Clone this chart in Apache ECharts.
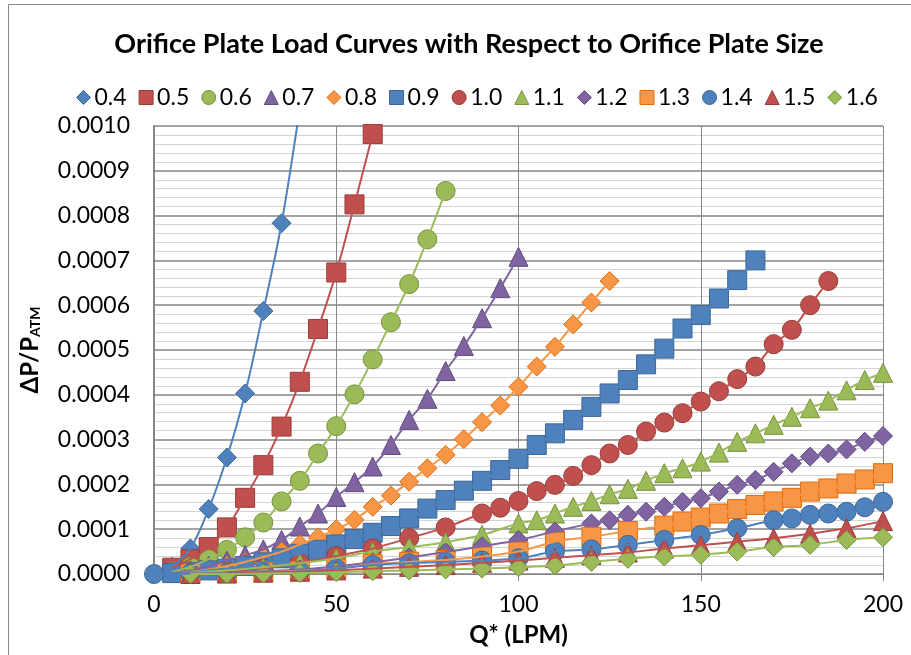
<!DOCTYPE html>
<html><head><meta charset="utf-8">
<script src="https://cdn.jsdelivr.net/npm/echarts@6/dist/echarts.min.js"></script>
<style>html,body{margin:0;padding:0;background:#fff}#c{width:911px;height:655px}</style>
</head><body><div id="c"></div><script>
// ---- data ----
const seriesNames = ['0.4','0.5','0.6','0.7','0.8','0.9','1.0','1.1','1.2','1.3','1.4','1.5','1.6'];

const x04 = [5,10,15,20,25,30,35,40];
const y04 = [0.000016,0.000057,0.000145,0.00026,0.000403,0.000587,0.000783,0.00104];

const x05 = [5,10,15,20,25,30,35,40,45,50,55,60];
const y05 = [0.000014,0.000033,0.00006,0.000104,0.00017,0.000243,0.000329,0.000429,0.000547,0.000673,0.000825,0.000982];

const x06 = [5,10,15,20,25,30,35,40,45,50,55,60,65,70,75,80];
const y06 = [0.000005,0.000016,0.000033,0.000054,0.000082,0.000115,0.000162,0.000208,0.000269,0.00033,0.000401,0.000479,0.000562,0.000647,0.000747,0.000855];

const x07 = [5,10,15,20,25,30,35,40,45,50,55,60,65,70,75,80,85,90,95,100];
const y07 = [0.000003,0.000008,0.000018,0.00003,0.000042,0.000055,0.000076,0.000106,0.000135,0.000172,0.000205,0.00024,0.000288,0.000344,0.000391,0.000453,0.000509,0.000571,0.000638,0.000708];

const x08 = [5,10,15,20,25,30,35,40,45,50,55,60,65,70,75,80,85,90,95,100,105,110,115,120,125];
const y08 = [0.000002,0.000005,0.00001,0.000018,0.000027,0.000038,0.00005,0.000066,0.000082,0.0001,0.000121,0.00015,0.000175,0.000206,0.000236,0.000266,0.000301,0.000339,0.000376,0.000418,0.000463,0.000507,0.000557,0.000606,0.000654];

const x09 = [5,10,15,20,25,30,35,40,45,50,55,60,65,70,75,80,85,90,95,100,105,110,115,120,125,130,135,140,145,150,155,160,165];
const y09 = [0.000002,0.000004,0.000008,0.000012,0.000018,0.000026,0.000035,0.000045,0.000054,0.000066,0.000078,0.000092,0.000107,0.000124,0.000146,0.000165,0.000186,0.000208,0.000232,0.000257,0.000288,0.000314,0.000344,0.000373,0.000403,0.000433,0.000468,0.000503,0.000548,0.000578,0.000615,0.000656,0.0007];

const x10 = [10,20,30,40,50,60,70,80,90,95,100,105,110,115,120,125,130,135,140,145,150,155,160,165,170,175,180,185];
const y10 = [0.000002,0.000006,0.000013,0.000024,0.00004,0.000057,0.00008,0.000104,0.000135,0.000148,0.000163,0.000185,0.000199,0.000219,0.000243,0.000269,0.000288,0.000318,0.000338,0.000359,0.000385,0.000408,0.000435,0.000463,0.000513,0.000545,0.0006,0.000654];

const x11 = [10,20,30,40,50,60,70,80,90,100,105,110,115,120,125,130,135,140,145,150,155,160,165,170,175,180,185,190,195,200];
const y11 = [0.000003,0.000008,0.000015,0.000024,0.000035,0.00005,0.00006,0.000071,0.000087,0.000113,0.00012,0.000135,0.00015,0.000163,0.000178,0.00019,0.000208,0.000225,0.000236,0.000251,0.000271,0.000295,0.000314,0.000333,0.000351,0.00037,0.000387,0.00041,0.000433,0.000449];

const x12 = [10,20,30,40,50,60,70,80,90,100,110,120,125,130,135,140,145,150,155,160,165,170,175,180,185,190,195,200];
const y12 = [0.000001,0.000003,0.000006,0.00001,0.000017,0.000026,0.000037,0.000049,0.000062,0.000076,0.000095,0.000113,0.00012,0.000132,0.000139,0.00015,0.000161,0.000169,0.000184,0.000199,0.00021,0.000228,0.000247,0.000262,0.000269,0.000278,0.000295,0.000308];

const x13 = [10,20,30,40,50,60,70,80,90,100,110,120,130,140,145,150,155,160,165,170,175,180,185,190,195,200];
const y13 = [0.000001,0.000002,0.000004,0.000007,0.000012,0.000022,0.000027,0.000031,0.000039,0.00005,0.000072,0.000083,0.000096,0.000108,0.000117,0.000126,0.000135,0.000145,0.000154,0.000162,0.00017,0.000184,0.000191,0.000202,0.000211,0.000225];

const x14 = [0,10,20,30,40,50,60,70,80,90,100,110,120,130,140,150,160,170,175,180,185,190,195,200];
const y14 = [0,0.000001,0.000002,0.000004,0.000006,0.000012,0.00002,0.000024,0.000027,0.00003,0.000035,0.00005,0.000055,0.000065,0.000076,0.000087,0.000102,0.00012,0.000124,0.000132,0.000135,0.000139,0.000149,0.000161];

const x15 = [10,20,30,40,50,60,70,80,90,100,110,120,130,140,150,160,170,180,190,200];
const y15 = [0,0.000001,0.000003,0.000005,0.000008,0.000012,0.000016,0.00002,0.000025,0.00003,0.000036,0.000042,0.000048,0.000057,0.000064,0.000072,0.00008,0.00009,0.000102,0.000118];

const x16 = [10,20,30,40,50,60,70,80,90,100,110,120,130,140,150,160,170,180,190,200];
const y16 = [0,0,0.000001,0.000002,0.000004,0.000006,0.000008,0.00001,0.000012,0.000015,0.000019,0.000027,0.000034,0.000039,0.000043,0.00005,0.00006,0.000065,0.000076,0.000082];

const seriesX = [x04,x05,x06,x07,x08,x09,x10,x11,x12,x13,x14,x15,x16];
const seriesY = [y04,y05,y06,y07,y08,y09,y10,y11,y12,y13,y14,y15,y16];

// ---- styles ----
const FILL = {blue:'#4F81BD', red:'#C0504D', green:'#9BBB59', purple:'#8064A2', orange:'#F79646'};
const EDGE = {blue:'#3A6796', red:'#9A3B38', green:'#76923C', purple:'#5F4A7C', orange:'#E36C0A'};
const colorKey = ['blue','red','green','purple','orange','blue','red','green','purple','orange','blue','red','green'];
const symbolKey = ['diamond','rect','circle','triangle','diamond','rect','circle','triangle','diamond','rect','circle','triangle','diamond'];

const FONT = 'Lato, "Liberation Sans", sans-serif';

const scatterSeries = seriesNames.map((n,i)=>({
  name:n, type:'scatter', symbol:symbolKey[i], symbolSize:19, clip:true, z:2,
  itemStyle:{color:FILL[colorKey[i]], borderColor:EDGE[colorKey[i]], borderWidth:1, opacity:1},
  emphasis:{disabled:true},
  data: seriesX[i].map((x,k)=>[x, seriesY[i][k]])
}));
const lineSeries = seriesNames.map((n,i)=>({
  name:n, type:'line', showSymbol:false, smooth:0.35, clip:true, z:3, silent:true,
  lineStyle:{color:FILL[colorKey[i]], width:2},
  itemStyle:{color:FILL[colorKey[i]]},
  emphasis:{disabled:true},
  data: seriesX[i].map((x,k)=>[x, seriesY[i][k]])
}));

const chart = echarts.init(document.getElementById('c'), null, {renderer:'canvas'});
chart.setOption({
  animation:false,
  backgroundColor:'#fff',
  title:{text:'Orifice Plate Load Curves with Respect to Orifice Plate Size', left:464, textAlign:'center', top:26,
    textStyle:{fontFamily:FONT, fontWeight:'bold', fontSize:27, color:'#000'}},
  legend:{left:71, top:81, itemWidth:14, itemHeight:14, itemGap:12,
    textStyle:{fontFamily:FONT, fontSize:23, color:'#000', padding:[0,0,0,-1]},
    data: seriesNames.map((n,i)=>({name:n, icon:symbolKey[i],
      itemStyle:{color:FILL[colorKey[i]], borderColor:EDGE[colorKey[i]], borderWidth:1}}))},
  grid:{left:154, right:28, top:126, bottom:81, containLabel:false},
  xAxis:{type:'value', min:0, max:200, interval:50,
    axisLine:{show:true, onZero:false, lineStyle:{color:'#868686', width:1}},
    axisTick:{show:true, length:7, lineStyle:{color:'#868686'}},
    axisLabel:{fontFamily:FONT, fontSize:23, color:'#000', margin:19},
    splitLine:{show:true, lineStyle:{color:'#868686', width:1}},
    name:'Q* (LPM)', nameLocation:'middle', nameGap:49,
    nameTextStyle:{fontFamily:FONT, fontWeight:'bold', fontSize:24, color:'#000'}},
  yAxis:{type:'value', min:0, max:0.001, interval:0.0001,
    axisLine:{show:true, lineStyle:{color:'#868686', width:2}},
    axisTick:{show:false},
    axisLabel:{fontFamily:FONT, fontSize:23, color:'#000', margin:24, formatter:v=>v.toFixed(4)},
    splitLine:{show:true, lineStyle:{color:'#868686', width:1.6}},
    minorTick:{show:false, splitNumber:5},
    minorSplitLine:{show:true, lineStyle:{color:'#d4d4d4', width:1}},
    name:'{a|ΔP/P}{b|ATM}', nameLocation:'middle', nameRotate:90, nameGap:112,
    nameTextStyle:{color:'#000', rich:{
      a:{fontFamily:FONT, fontWeight:'bold', fontSize:24, color:'#000'},
      b:{fontFamily:FONT, fontWeight:'bold', fontSize:14, color:'#000', verticalAlign:'bottom'}}}},
  graphic:[{type:'rect', shape:{x:8.5, y:4.5, width:960, height:700}, style:{fill:null, stroke:'#868686', lineWidth:1}, silent:true, z:-10}],
  series: scatterSeries.concat(lineSeries)
});
</script></body></html>
